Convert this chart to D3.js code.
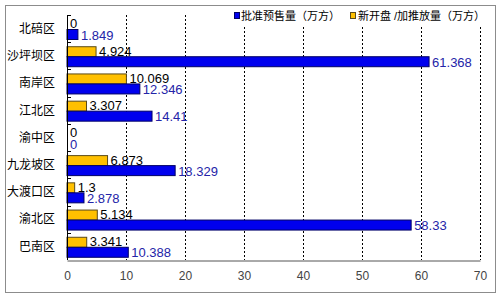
<!DOCTYPE html>
<html>
<head>
<meta charset="utf-8">
<script src="https://cdn.jsdelivr.net/npm/d3@7"></script>
<style>
  body { margin: 0; background: #fff; }
  svg text { font-family: "Liberation Sans", Arial, "Noto Sans CJK SC", sans-serif; }
</style>
</head>
<body>
<div class="chart"></div>
<script>
// chart data
const categories = ['北碚区', '沙坪坝区', '南岸区', '江北区', '渝中区', '九龙坡区', '大渡口区', '渝北区', '巴南区'];
const presale = [1.849, 61.368, 12.346, 14.41, 0, 18.329, 2.878, 58.33, 10.388];   // 批准预售量
const newSupply = [0, 4.924, 10.069, 3.307, 0, 6.873, 1.3, 5.134, 3.341];          // 新开盘/加推放量
const xTicks = [0, 10, 20, 30, 40, 50, 60, 70];
const seriesNames = ['批准预售量（万方）', '新开盘 /加推放量（万方）'];

const width = 500;
const height = 298;
const plotLeft = 67, plotRight = 480, plotTop = 15, plotBottom = 260;

const svg = d3.select('.chart')
  .append('svg')
  .attr('width', width)
  .attr('height', height);

// outer frame
svg.append('rect')
  .attr('x', 5.5).attr('y', 5.5)
  .attr('width', 490).attr('height', 287)
  .attr('fill', '#fff')
  .attr('stroke', '#8c8c8c');

const xScale = d3.scaleLinear().domain([0, 70]).range([plotLeft, plotRight]);
const yScale = d3.scaleBand().domain(categories).range([plotTop, plotBottom]);
const sub = d3.scaleBand().domain(['new', 'presale']).range([4.5, 24.5]);

// dotted grid
svg.selectAll('.grid')
  .data(xTicks.slice(1))
  .enter()
  .append('line')
  .attr('x1', d => Math.round(xScale(d)) + 0.5)
  .attr('x2', d => Math.round(xScale(d)) + 0.5)
  .attr('y1', plotTop)
  .attr('y2', plotBottom)
  .attr('stroke', '#000')
  .attr('stroke-dasharray', '2,2');

// bars
const rows = categories.map((c, i) => ({ c, p: presale[i], n: newSupply[i] }));

svg.selectAll('.bar-n')
  .data(rows)
  .enter()
  .append('rect')
  .attr('x', xScale(0))
  .attr('y', d => yScale(d.c) + sub('new'))
  .attr('width', d => xScale(d.n) - xScale(0))
  .attr('height', sub.bandwidth())
  .attr('fill', '#ffc000')
  .attr('stroke', d => d.n > 0 ? '#5a4a1a' : 'none')
  .attr('stroke-width', 1);

svg.selectAll('.bar-p')
  .data(rows)
  .enter()
  .append('rect')
  .attr('x', xScale(0))
  .attr('y', d => yScale(d.c) + sub('presale'))
  .attr('width', d => xScale(d.p) - xScale(0))
  .attr('height', sub.bandwidth())
  .attr('fill', '#0000ee')
  .attr('stroke', d => d.p > 0 ? '#000066' : 'none')
  .attr('stroke-width', 1);

// value labels
svg.selectAll('.lab-n')
  .data(rows)
  .enter()
  .append('text')
  .attr('x', d => xScale(d.n) + 3)
  .attr('y', d => yScale(d.c) + sub('new') + sub.bandwidth() / 2)
  .attr('dy', '0.3em')
  .attr('font-size', 13)
  .attr('fill', '#000')
  .text(d => d.n);

svg.selectAll('.lab-p')
  .data(rows)
  .enter()
  .append('text')
  .attr('x', d => xScale(d.p) + 3)
  .attr('y', d => yScale(d.c) + sub('presale') + sub.bandwidth() / 2)
  .attr('dy', '0.4em')
  .attr('font-size', 13)
  .attr('fill', '#2424a8')
  .text(d => d.p);

// left axis: line, inward boundary ticks, category labels
svg.append('line')
  .attr('x1', plotLeft + 0.5).attr('x2', plotLeft + 0.5)
  .attr('y1', plotTop).attr('y2', plotBottom)
  .attr('stroke', '#000');

svg.selectAll('.btick')
  .data(categories)
  .enter()
  .append('line')
  .attr('x1', plotLeft).attr('x2', plotLeft + 4)
  .attr('y1', d => Math.round(yScale(d)) + 0.5)
  .attr('y2', d => Math.round(yScale(d)) + 0.5)
  .attr('stroke', '#000');

svg.selectAll('.cat')
  .data(categories)
  .enter()
  .append('text')
  .attr('x', 55)
  .attr('y', d => yScale(d) + yScale.bandwidth() / 2)
  .attr('dy', '0.36em')
  .attr('text-anchor', 'end')
  .attr('font-size', 12)
  .attr('font-family', '"Noto Sans CJK SC", sans-serif')
  .attr('fill', '#000')
  .text(d => d);

// bottom axis
const xAxis = svg.append('g')
  .attr('transform', `translate(0, ${plotBottom + 0.5})`)
  .call(d3.axisBottom(xScale).tickValues(xTicks).tickSize(0).tickPadding(11));
xAxis.select('.domain').attr('stroke', '#555');
xAxis.selectAll('text')
  .attr('font-size', 12)
  .attr('fill', '#444')
  .attr('font-family', '"Liberation Sans", Arial, sans-serif');

// legend
const legend = svg.append('g');
legend.append('rect')
  .attr('x', 230).attr('y', 6)
  .attr('width', 262).attr('height', 19)
  .attr('fill', '#fff');

const legendItems = [
  { name: seriesNames[0], color: '#0000ee', stroke: '#000066', x: 234, tx: 241 },
  { name: seriesNames[1], color: '#ffc000', stroke: '#5a4a1a', x: 350, tx: 358 }
];
legend.selectAll('.lg-box')
  .data(legendItems)
  .enter()
  .append('rect')
  .attr('x', d => d.x + 0.5).attr('y', 12.5)
  .attr('width', 5).attr('height', 6)
  .attr('fill', d => d.color)
  .attr('stroke', d => d.stroke);
legend.selectAll('.lg-text')
  .data(legendItems)
  .enter()
  .append('text')
  .attr('x', d => d.tx)
  .attr('y', 16)
  .attr('dy', '0.36em')
  .attr('font-size', 11)
  .attr('font-family', '"Noto Sans CJK SC", sans-serif')
  .attr('fill', '#000')
  .text(d => d.name);
</script>
</body>
</html>
